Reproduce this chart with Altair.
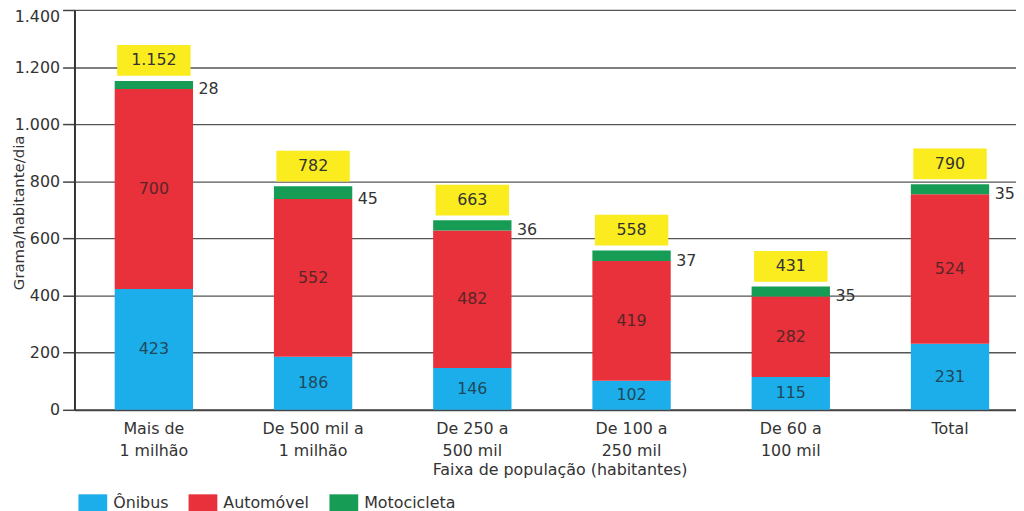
import altair as alt
import pandas as pd

categorias = ["Mais de\n1 milhão", "De 500 mil a\n1 milhão", "De 250 a\n500 mil",
              "De 100 a\n250 mil", "De 60 a\n100 mil", "Total"]
onibus = [423, 186, 146, 102, 115, 231]
automovel = [700, 552, 482, 419, 282, 524]
motocicleta = [28, 45, 36, 37, 35, 35]
totais = [1152, 782, 663, 558, 431, 790]
tipos = ["Ônibus", "Automóvel", "Motocicleta"]
cores = ["#1BAEEA", "#E8313A", "#179C55"]
amarelo = "#FAEC1E"

rows = []
for i, c in enumerate(categorias):
    for k, (t, serie) in enumerate(zip(tipos, [onibus, automovel, motocicleta])):
        rows.append({"cat": c, "tipo": t, "valor": serie[i], "ordem": k})
df = pd.DataFrame(rows)
tot = pd.DataFrame({"cat": categorias, "total": totais})

FONT = "DejaVu Sans"
TXT = "#333333"

xscale = alt.Scale(paddingInner=0.508, paddingOuter=0.2105, align=0.6)
xaxis = alt.Axis(labelExpr="split(datum.label, '\\n')", labelAngle=0, labelFontSize=16,
                 labelColor=TXT, labelLineHeight=22, labelPadding=11, ticks=False,
                 domainColor="#444444", domainWidth=2, grid=False,
                 title="Faixa de população (habitantes)", titleFontSize=16,
                 titleFontWeight="normal", titleColor=TXT, titleX=489, titleY=60,
                 titleAlign="center", titleBaseline="middle")
X = alt.X("cat:N", sort=categorias, scale=xscale, axis=xaxis)

yscale = alt.Scale(domain=[0, 1400], nice=False)
yaxis = alt.Axis(values=list(range(0, 1401, 200)),
                 labelExpr="replace(format(datum.value, ','), ',', '.')",
                 labelFontSize=16, labelColor=TXT, labelPadding=3,
                 labelOffset={"condition": {"test": "datum.value == 1400", "value": 7}, "value": 0},
                 tickSize=12, tickColor="#444444", tickWidth=1.5,
                 domainColor="#333333", domainWidth=2,
                 grid=True, gridColor="#555555", gridWidth=1.3,
                 title="Grama/habitante/dia", titleFontSize=15, titleFontWeight="normal",
                 titleColor=TXT, titleAngle=-90, titleX=-56, titleY=204,
                 titleAlign="center", titleBaseline="middle")


def Y(field):
    return alt.Y(field, type="quantitative", scale=yscale, axis=yaxis)


base = alt.Chart(df).transform_stack(
    stack="valor", as_=["v0", "v1"], groupby=["cat"], sort=[alt.SortField("ordem")]
)

bars = base.mark_bar().encode(
    x=X,
    y=Y("v0"),
    y2="v1:Q",
    color=alt.Color("tipo:N", scale=alt.Scale(domain=tipos, range=cores),
                    legend=alt.Legend(orient="none", legendX=4, legendY=482,
                                      direction="horizontal", title=None,
                                      symbolType="M-1,-0.6H1V0.6H-1Z", symbolSize=841,
                                      symbolStrokeWidth=0, symbolOpacity=1,
                                      labelFontSize=16, labelColor=TXT, labelOffset=6,
                                      columnPadding=20)),
)

inner = base.transform_filter("datum.ordem < 2").transform_calculate(
    mid="(datum.v0 + datum.v1) / 2"
).mark_text(fontSize=16, color="#222222", opacity=0.72, baseline="middle").encode(
    x=X, y=Y("mid"), text="valor:Q"
)

side = base.transform_filter("datum.ordem == 2").mark_text(
    fontSize=16, color=TXT, align="left", baseline="middle", dx=45
).encode(x=X, y=Y("v0"), text="valor:Q")

boxes = alt.Chart(tot).mark_point(
    shape="M-1,-0.419H1V0.419H-1Z", size=5476, filled=True, color=amarelo,
    opacity=1, strokeWidth=0, yOffset=-20.5
).encode(x=X, y=Y("total"))

totlab = alt.Chart(tot).transform_calculate(
    rot="replace(format(datum.total, ','), ',', '.')"
).mark_text(fontSize=16, color=TXT, baseline="middle", yOffset=-20.5).encode(
    x=X, y=Y("total"), text="rot:N"
)

chart = alt.layer(bars, inner, side, boxes, totlab).properties(
    width=949, height=403,
    autosize=alt.AutoSizeParams(type="none"),
    padding={"left": 67, "top": 0, "right": 0, "bottom": 100},
).configure(font=FONT, background="white").configure_view(stroke=None)

chart.save("out.html", embed_options={"renderer": "svg", "actions": False})
